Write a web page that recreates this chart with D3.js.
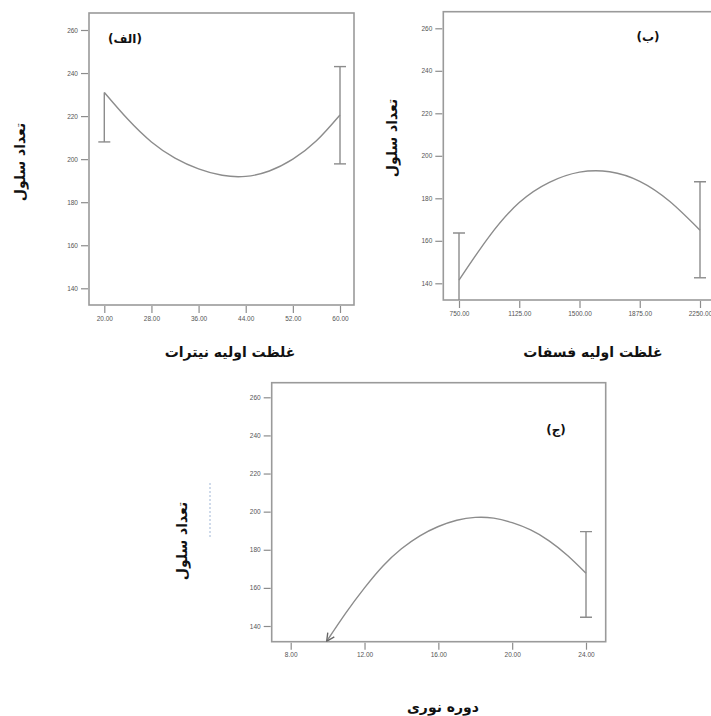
<!DOCTYPE html>
<meta charset="utf-8">
<style>
body { margin: 0; background: #fff; }
.frame { fill: none; stroke: #9a9a9a; stroke-width: 1.6; }
.curve { fill: none; stroke: #8c8c8c; stroke-width: 1.4; }
.err { stroke: #8c8c8c; stroke-width: 1.4; }
.axis path { display: none; }
.axis line { stroke: #8c8c8c; stroke-width: 1.2; }
.axis text { font: 6.5px "Liberation Sans", Arial, sans-serif; fill: #555; }
.title { font-family: "DejaVu Sans", sans-serif; font-weight: bold; fill: #111; direction: rtl; }
</style>
<body>
<script src="https://cdn.jsdelivr.net/npm/d3@7"></script>
<script>
// y ticks shared by all three panels
var yTicks = [140, 160, 180, 200, 220, 240, 260];

// (الف) nitrate
var nitrateTicks = [20, 28, 36, 44, 52, 60];
var nitrateX = [20, 24, 28, 32, 36, 40, 44, 48, 52, 56, 60];
var nitrateY = [231, 218.5, 208, 200.5, 195.5, 192.5, 192, 194.5, 200, 208.5, 220.5];
var nitrateErr = [{x: 20, lo: 208, hi: 231, caps: [208]}, {x: 60, lo: 197.8, hi: 243, caps: [197.8, 243]}];

// (ب) phosphate
var phosphateTicks = [750, 1125, 1500, 1875, 2250];
var phosphateX = [750, 937.5, 1125, 1312.5, 1500, 1687.5, 1875, 2062.5, 2250];
var phosphateY = [141.5, 162, 178, 187.5, 192.3, 192.5, 188, 178.5, 165];
var phosphateErr = [{x: 750, lo: 125, hi: 163.7, caps: [163.7]}, {x: 2250, lo: 142.6, hi: 187.8, caps: [142.6, 187.8]}];

// (ج) light period
var lightTicks = [8, 12, 16, 20, 24];
var lightX = [9.95, 11, 12, 13, 14, 15, 16, 17, 18, 19, 20, 21, 22, 23, 24];
var lightY = [132, 147, 160, 171.5, 180.5, 187.3, 192.2, 195.5, 197, 196.6, 194.2, 190.4, 184.7, 177, 167.7];
var lightErr = [{x: 24, lo: 144.6, hi: 189.5, caps: [144.6, 189.5]}];

var svg = d3.select("body").append("svg")
    .attr("width", 711)
    .attr("height", 716);

var defs = svg.append("defs");
defs.append("marker")
    .attr("id", "arrow")
    .attr("viewBox", "0 0 10 10")
    .attr("refX", 9).attr("refY", 5)
    .attr("markerWidth", 7).attr("markerHeight", 7)
    .attr("orient", "auto-start-reverse")
    .append("path")
    .attr("d", "M1,1 L9,5 L1,9")
    .attr("fill", "none")
    .attr("stroke", "#666")
    .attr("stroke-width", 1.4);

function drawPanel(p) {
  var x = d3.scaleLinear().domain(p.xDomain).range(p.xRange);
  var y = d3.scaleLinear().domain([140, 260]).range(p.yRange);
  var g = svg.append("g");

  defs.append("clipPath").attr("id", p.id)
    .append("rect")
    .attr("x", p.box[0]).attr("y", p.box[1])
    .attr("width", p.box[2] - p.box[0]).attr("height", p.box[3] - p.box[1]);

  g.append("rect").attr("class", "frame")
    .attr("x", p.box[0]).attr("y", p.box[1])
    .attr("width", p.box[2] - p.box[0]).attr("height", p.box[3] - p.box[1]);

  g.append("g").attr("class", "axis")
    .attr("transform", "translate(" + (p.box[0] - 1) + ",0)")
    .call(d3.axisLeft(y).tickValues(yTicks).tickSize(7).tickPadding(3).tickFormat(d3.format("d")));

  g.append("g").attr("class", "axis")
    .attr("transform", "translate(0," + (p.box[3] + 1) + ")")
    .call(d3.axisBottom(x).tickValues(p.ticks).tickSize(7).tickPadding(3).tickFormat(d3.format(".2f")));

  var pts = p.xs.map(function(d, i) { return [d, p.ys[i]]; });
  var line = d3.line()
    .x(function(d) { return x(d[0]); })
    .y(function(d) { return y(d[1]); })
    .curve(d3.curveNatural);

  var inner = g.append("g").attr("clip-path", "url(#" + p.id + ")");
  var path = inner.append("path").attr("class", "curve").attr("d", line(pts));
  if (p.arrow) path.attr("marker-start", "url(#arrow)");

  p.err.forEach(function(e) {
    inner.append("line").attr("class", "err")
      .attr("x1", x(e.x)).attr("x2", x(e.x))
      .attr("y1", y(e.lo)).attr("y2", y(e.hi));
    e.caps.forEach(function(c) {
      inner.append("line").attr("class", "err")
        .attr("x1", x(e.x) - 6).attr("x2", x(e.x) + 6)
        .attr("y1", y(c)).attr("y2", y(c));
    });
  });

  g.append("text").attr("class", "title")
    .attr("x", p.tag[0]).attr("y", p.tag[1])
    .attr("text-anchor", "middle")
    .style("font-size", "12px")
    .text(p.tagText);

  g.append("text").attr("class", "title")
    .attr("transform", "translate(" + p.yTitle[0] + "," + p.yTitle[1] + ") rotate(-90)")
    .attr("text-anchor", "middle")
    .attr("dy", "0.35em")
    .style("font-size", "14px")
    .text("تعداد سلول");

  g.append("text").attr("class", "title")
    .attr("x", p.xTitle[0]).attr("y", p.xTitle[1])
    .attr("text-anchor", "middle")
    .style("font-size", "14px")
    .text(p.xTitleText);
}

drawPanel({
  id: "clipA", box: [89, 13, 354, 305],
  xDomain: [20, 60], xRange: [104.3, 340], yRange: [288.3, 30],
  ticks: nitrateTicks, xs: nitrateX, ys: nitrateY, err: nitrateErr,
  tag: [125, 43], tagText: "(الف)",
  yTitle: [20, 162], xTitle: [230, 357], xTitleText: "غلظت اولیه نیترات"
});

drawPanel({
  id: "clipB", box: [443.3, 11.7, 714, 300],
  xDomain: [750, 2250], xRange: [459, 700], yRange: [283.3, 28.3],
  ticks: phosphateTicks, xs: phosphateX, ys: phosphateY, err: phosphateErr,
  tag: [648, 41], tagText: "(ب)",
  yTitle: [392, 138], xTitle: [593, 357], xTitleText: "غلظت اولیه فسفات"
});

drawPanel({
  id: "clipC", box: [271.7, 382.7, 605.7, 641.7],
  xDomain: [8, 24], xRange: [290.7, 586], yRange: [626, 397.3],
  ticks: lightTicks, xs: lightX, ys: lightY, err: lightErr, arrow: true,
  tag: [556, 434], tagText: "(ج)",
  yTitle: [182, 541], xTitle: [443, 712], xTitleText: "دوره نوری"
});

// faint dashed mark left of panel (ج)
svg.append("line")
  .attr("x1", 210).attr("x2", 210)
  .attr("y1", 483).attr("y2", 538)
  .attr("stroke", "#9fb6d6")
  .attr("stroke-width", 1)
  .attr("stroke-dasharray", "2,2");
</script>
</body>
